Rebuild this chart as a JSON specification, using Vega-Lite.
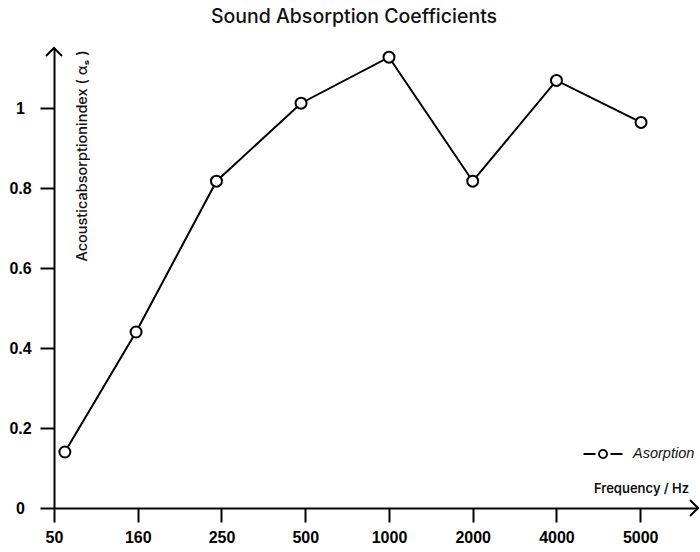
{
  "$schema": "https://vega.github.io/schema/vega-lite/v6.json",
  "width": 644,
  "height": 460,
  "autosize": {"type": "none"},
  "padding": {"left": 54, "top": 48, "right": 2, "bottom": 44},
  "background": "white",
  "config": {
    "view": {"stroke": null},
    "axis": {
      "grid": false,
      "domainColor": "#000",
      "domainWidth": 2,
      "tickColor": "#000",
      "tickWidth": 2,
      "tickSize": 14,
      "labelColor": "#000",
      "labelFont": "Liberation Sans",
      "labelFontWeight": "bold",
      "labelFontSize": 16
    }
  },
  "title": {
    "text": "Sound Absorption Coefficients",
    "font": "Inter",
    "fontSize": 19.5,
    "fontWeight": 500,
    "color": "#111",
    "anchor": "middle",
    "frame": "group",
    "offset": 17,
    "dx": -22
  },
  "datasets": {
    "absorption": [
      {"freq": "50", "pos": 0.13, "alpha": 0.14, "series": "Asorption"},
      {"freq": "160", "pos": 0.98, "alpha": 0.44, "series": "Asorption"},
      {"freq": "250", "pos": 1.94, "alpha": 0.817, "series": "Asorption"},
      {"freq": "500", "pos": 2.95, "alpha": 1.012, "series": "Asorption"},
      {"freq": "1000", "pos": 4.0, "alpha": 1.127, "series": "Asorption"},
      {"freq": "2000", "pos": 5.0, "alpha": 0.817, "series": "Asorption"},
      {"freq": "4000", "pos": 6.0, "alpha": 1.069, "series": "Asorption"},
      {"freq": "5000", "pos": 7.01, "alpha": 0.964, "series": "Asorption"}
    ]
  },
  "layer": [
    {
      "data": {"name": "absorption"},
      "mark": {"type": "line", "color": "#000", "strokeWidth": 2},
      "encoding": {
        "x": {
          "field": "pos",
          "type": "quantitative",
          "scale": {"domain": [0, 7.69], "nice": false, "zero": false},
          "axis": {
            "values": [0, 1, 2, 3, 4, 5, 6, 7],
            "labelExpr": "['50','160','250','500','1000','2000','4000','5000'][datum.value]",
            "labelPadding": 7,
            "labelAlign": "center",
            "title": "Frequency / Hz",
            "titleFont": "Inter",
            "titleFontSize": 13,
            "titleFontWeight": 600,
            "titleColor": "#111",
            "titleX": 587,
            "titleY": -20,
            "titleAlign": "center",
            "titleBaseline": "middle"
          }
        },
        "y": {
          "field": "alpha",
          "type": "quantitative",
          "scale": {"domain": [0, 1.15], "nice": false, "zero": true},
          "axis": {
            "values": [0, 0.2, 0.4, 0.6, 0.8, 1],
            "format": "~g",
            "labelAlign": "center",
            "labelBaseline": "middle",
            "labelPadding": 20,
            "title": "Acousticabsorptionindex ( αₛ )",
            "titleFont": "Inter",
            "titleFontSize": 14.5,
            "titleFontWeight": 500,
            "titleColor": "#111",
            "titleAngle": -90,
            "titleAlign": "right",
            "titleBaseline": "middle",
            "titleX": 28,
            "titleY": 2
          }
        }
      }
    },
    {
      "data": {"name": "absorption"},
      "mark": {"type": "point", "filled": true, "fill": "white", "strokeWidth": 2, "size": 120, "opacity": 1},
      "encoding": {
        "x": {"field": "pos", "type": "quantitative"},
        "y": {"field": "alpha", "type": "quantitative"},
        "stroke": {
          "field": "series",
          "type": "nominal",
          "scale": {"range": ["#000"]},
          "legend": {
            "orient": "none",
            "legendX": 535,
            "legendY": 392,
            "title": null,
            "padding": 0,
            "symbolType": "M-1.5,0L-0.58,0M0.58,0L1.5,0M-0.31,0A0.31,0.31,0,1,1,0.31,0A0.31,0.31,0,1,1,-0.31,0",
            "symbolSize": 676,
            "symbolStrokeWidth": 1.8,
            "symbolFillColor": "white",
            "symbolStrokeColor": "#000",
            "labelFont": "Liberation Sans",
            "labelFontStyle": "italic",
            "labelFontSize": 14.5,
            "labelColor": "#111",
            "labelOffset": 16,
            "labelLimit": 0
          }
        }
      }
    },
    {
      "data": {"values": [{}]},
      "mark": {"type": "point", "shape": "M-1,1L0,0L1,1", "filled": false, "color": "#000", "strokeWidth": 2, "size": 256, "opacity": 1},
      "encoding": {
        "x": {"datum": 0, "type": "quantitative"},
        "y": {"datum": 1.15, "type": "quantitative"}
      }
    },
    {
      "data": {"values": [{}]},
      "mark": {"type": "point", "shape": "M-1,-1L0,0L-1,1", "filled": false, "color": "#000", "strokeWidth": 2, "size": 256, "opacity": 1},
      "encoding": {
        "x": {"datum": 7.69, "type": "quantitative"},
        "y": {"datum": 0, "type": "quantitative"}
      }
    }
  ]
}
